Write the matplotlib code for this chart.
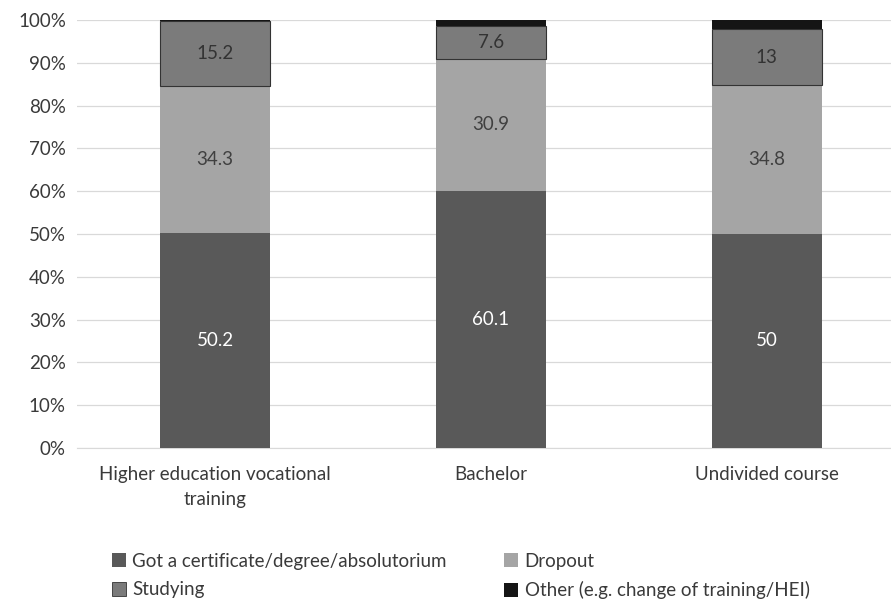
import numpy as np
import matplotlib
matplotlib.use("Agg")
import matplotlib.pyplot as plt
from matplotlib.patches import Patch

# ------------------ Data ------------------

categories = ["Higher education vocational\ntraining", "Bachelor", "Undivided course"]
got_certificate = [50.2, 60.1, 50]
dropout = [34.3, 30.9, 34.8]
studying = [15.2, 7.6, 13]
other = [0.3, 1.4, 2.2]

series_names = ["Got a certificate/degree/absolutorium", "Dropout",
                "Studying", "Other (e.g. change of training/HEI)"]

# ------------------ Style ------------------

colors = ["#595959", "#a5a5a5", "#7b7b7b", "#151515"]
label_colors = ["white", "#404040", "#333333", None]
text_color = "#3a3a3a"

plt.rcParams['font.family'] = ['Lato', 'DejaVu Sans']

fig = plt.figure(figsize=(8.91, 6.01), dpi=100)
ax = fig.add_axes([77 / 891, 1 - 448 / 601, (891 - 77) / 891, (448 - 20) / 601])

x = np.arange(len(categories))
bottom = np.zeros(len(categories))
all_series = [got_certificate, dropout, studying, other]
for i, vals in enumerate(all_series):
    vals = np.array(vals, dtype=float)
    edge = "#333333" if i == 2 else colors[i]
    ax.bar(x, vals, 0.4, bottom=bottom, color=colors[i], edgecolor=edge,
           linewidth=0.8 if i == 2 else 0, zorder=3)
    if label_colors[i] is not None:
        for xi, b, v in zip(x, bottom, vals):
            ax.text(xi, b + v / 2, "{:g}".format(v), ha="center", va="center",
                    fontsize=13.5, color=label_colors[i], zorder=4)
    bottom += vals

ax.set_xlim(-0.5, 2.45)
ax.set_ylim(0, 100)
ax.set_yticks(np.arange(0, 101, 10))
ax.set_yticklabels(["{}%".format(v) for v in range(0, 101, 10)])
ax.set_xticks(x)
ax.set_xticklabels(categories, linespacing=1.55)
ax.tick_params(axis="y", length=0, labelsize=13.5, labelcolor=text_color, pad=8)
ax.tick_params(axis="x", length=0, labelsize=13.5, labelcolor=text_color, pad=13)
ax.grid(axis="y", color="#d9d9d9", linewidth=0.9, zorder=0)
for s in ["top", "right", "left"]:
    ax.spines[s].set_visible(False)
ax.spines["bottom"].set_color("#d9d9d9")

# legend fills column by column, so order handles to get row-wise layout
handles = [Patch(facecolor=colors[0]),
           Patch(facecolor=colors[2], edgecolor="#333333", linewidth=0.6),
           Patch(facecolor=colors[1]),
           Patch(facecolor=colors[3])]
labels = [series_names[0], series_names[2], series_names[1], series_names[3]]
leg = fig.legend(handles, labels, ncol=2, loc="lower left",
                 bbox_to_anchor=(108 / 891, -2 / 601), borderaxespad=0.0,
                 borderpad=0.2, frameon=False,
                 fontsize=13.5, handlelength=0.75, handleheight=0.75,
                 handletextpad=0.35, columnspacing=3.05, labelspacing=0.62)
for t in leg.get_texts():
    t.set_color(text_color)

fig.savefig("out.png", dpi=100, facecolor="white")
